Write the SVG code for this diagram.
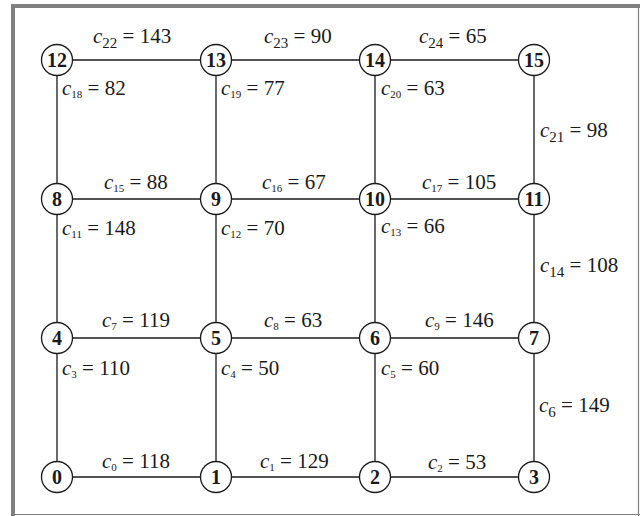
<svg xmlns="http://www.w3.org/2000/svg" width="642" height="516" viewBox="0 0 642 516">
<style>
text{font-family:'Liberation Serif',serif !important}
.frame{fill:none;stroke:#808080}
.edge{stroke:#1a1a1a;stroke-width:1.3;fill:none}
.node circle{fill:#fff;stroke:#1a1a1a;stroke-width:1.3}
.node text{font-weight:bold;font-size:20px;fill:#1a1a1a;text-anchor:middle}
.lbl{font-size:21px;fill:#1a1a1a}
.c{font-style:italic}
.s{font-size:11px}
.S{font-size:15px}
</style>
<rect x="0" y="0" width="642" height="516" fill="#fff"/>
<line class="frame" x1="11" y1="6" x2="640" y2="6" stroke-width="4"/>
<line class="frame" x1="13" y1="4" x2="13" y2="516" stroke-width="4"/>
<line class="frame" x1="638.5" y1="6" x2="638.5" y2="516" stroke-width="1.2"/>
<line class="frame" x1="11" y1="514.5" x2="640" y2="514.5" stroke-width="1.2"/>
<g id="connectors">
<line class="edge" x1="57" y1="60" x2="534" y2="60"/>
<line class="edge" x1="57" y1="199" x2="534" y2="199"/>
<line class="edge" x1="57" y1="338" x2="534" y2="338"/>
<line class="edge" x1="57" y1="477" x2="534" y2="477"/>
<line class="edge" x1="57" y1="60" x2="57" y2="477"/>
<line class="edge" x1="216" y1="60" x2="216" y2="477"/>
<line class="edge" x1="375" y1="60" x2="375" y2="477"/>
<line class="edge" x1="534" y1="60" x2="534" y2="477"/>
</g>
<g id="labels" class="lbl">
<text style="font-family:'Liberation Serif',serif" x="93" y="43"><tspan class="c">c</tspan><tspan class="S" dy="5">22</tspan><tspan dy="-5"> = 143</tspan></text>
<text style="font-family:'Liberation Serif',serif" x="264" y="43"><tspan class="c">c</tspan><tspan class="S" dy="5">23</tspan><tspan dy="-5"> = 90</tspan></text>
<text style="font-family:'Liberation Serif',serif" x="419" y="43"><tspan class="c">c</tspan><tspan class="S" dy="5">24</tspan><tspan dy="-5"> = 65</tspan></text>
<text style="font-family:'Liberation Serif',serif" x="62" y="95"><tspan class="c">c</tspan><tspan class="s" dy="3">18</tspan><tspan dy="-3"> = 82</tspan></text>
<text style="font-family:'Liberation Serif',serif" x="221" y="95"><tspan class="c">c</tspan><tspan class="s" dy="3">19</tspan><tspan dy="-3"> = 77</tspan></text>
<text style="font-family:'Liberation Serif',serif" x="381" y="95"><tspan class="c">c</tspan><tspan class="s" dy="3">20</tspan><tspan dy="-3"> = 63</tspan></text>
<text style="font-family:'Liberation Serif',serif" x="540" y="137"><tspan class="c">c</tspan><tspan class="S" dy="5">21</tspan><tspan dy="-5"> = 98</tspan></text>
<text style="font-family:'Liberation Serif',serif" x="104" y="189"><tspan class="c">c</tspan><tspan class="s" dy="3">15</tspan><tspan dy="-3"> = 88</tspan></text>
<text style="font-family:'Liberation Serif',serif" x="262" y="189"><tspan class="c">c</tspan><tspan class="s" dy="3">16</tspan><tspan dy="-3"> = 67</tspan></text>
<text style="font-family:'Liberation Serif',serif" x="422" y="189"><tspan class="c">c</tspan><tspan class="s" dy="3">17</tspan><tspan dy="-3"> = 105</tspan></text>
<text style="font-family:'Liberation Serif',serif" x="62" y="235"><tspan class="c">c</tspan><tspan class="s" dy="3">11</tspan><tspan dy="-3"> = 148</tspan></text>
<text style="font-family:'Liberation Serif',serif" x="221" y="235"><tspan class="c">c</tspan><tspan class="s" dy="3">12</tspan><tspan dy="-3"> = 70</tspan></text>
<text style="font-family:'Liberation Serif',serif" x="381" y="233"><tspan class="c">c</tspan><tspan class="s" dy="3">13</tspan><tspan dy="-3"> = 66</tspan></text>
<text style="font-family:'Liberation Serif',serif" x="540" y="272"><tspan class="c">c</tspan><tspan class="S" dy="5">14</tspan><tspan dy="-5"> = 108</tspan></text>
<text style="font-family:'Liberation Serif',serif" x="102" y="327"><tspan class="c">c</tspan><tspan class="s" dy="3">7</tspan><tspan dy="-3"> = 119</tspan></text>
<text style="font-family:'Liberation Serif',serif" x="264" y="327"><tspan class="c">c</tspan><tspan class="s" dy="3">8</tspan><tspan dy="-3"> = 63</tspan></text>
<text style="font-family:'Liberation Serif',serif" x="425" y="327"><tspan class="c">c</tspan><tspan class="s" dy="3">9</tspan><tspan dy="-3"> = 146</tspan></text>
<text style="font-family:'Liberation Serif',serif" x="62" y="375"><tspan class="c">c</tspan><tspan class="s" dy="3">3</tspan><tspan dy="-3"> = 110</tspan></text>
<text style="font-family:'Liberation Serif',serif" x="221" y="375"><tspan class="c">c</tspan><tspan class="s" dy="3">4</tspan><tspan dy="-3"> = 50</tspan></text>
<text style="font-family:'Liberation Serif',serif" x="381" y="375"><tspan class="c">c</tspan><tspan class="s" dy="3">5</tspan><tspan dy="-3"> = 60</tspan></text>
<text style="font-family:'Liberation Serif',serif" x="539" y="412"><tspan class="c">c</tspan><tspan class="S" dy="5">6</tspan><tspan dy="-5"> = 149</tspan></text>
<text style="font-family:'Liberation Serif',serif" x="102" y="468"><tspan class="c">c</tspan><tspan class="s" dy="3">0</tspan><tspan dy="-3"> = 118</tspan></text>
<text style="font-family:'Liberation Serif',serif" x="260" y="468"><tspan class="c">c</tspan><tspan class="s" dy="3">1</tspan><tspan dy="-3"> = 129</tspan></text>
<text style="font-family:'Liberation Serif',serif" x="428" y="469"><tspan class="c">c</tspan><tspan class="s" dy="3">2</tspan><tspan dy="-3"> = 53</tspan></text>
</g>
<g id="n12" class="node"><circle cx="57" cy="60" r="15.5"/><text style="font-family:'Liberation Serif',serif" x="57" y="67">12</text></g>
<g id="n13" class="node"><circle cx="216" cy="60" r="15.5"/><text style="font-family:'Liberation Serif',serif" x="216" y="67">13</text></g>
<g id="n14" class="node"><circle cx="375" cy="60" r="15.5"/><text style="font-family:'Liberation Serif',serif" x="375" y="67">14</text></g>
<g id="n15" class="node"><circle cx="534" cy="60" r="15.5"/><text style="font-family:'Liberation Serif',serif" x="534" y="67">15</text></g>
<g id="n8" class="node"><circle cx="57" cy="199" r="15.5"/><text style="font-family:'Liberation Serif',serif" x="57" y="206">8</text></g>
<g id="n9" class="node"><circle cx="216" cy="199" r="15.5"/><text style="font-family:'Liberation Serif',serif" x="216" y="206">9</text></g>
<g id="n10" class="node"><circle cx="375" cy="199" r="15.5"/><text style="font-family:'Liberation Serif',serif" x="375" y="206">10</text></g>
<g id="n11" class="node"><circle cx="534" cy="199" r="15.5"/><text style="font-family:'Liberation Serif',serif" x="534" y="206">11</text></g>
<g id="n4" class="node"><circle cx="57" cy="338" r="15.5"/><text style="font-family:'Liberation Serif',serif" x="57" y="345">4</text></g>
<g id="n5" class="node"><circle cx="216" cy="338" r="15.5"/><text style="font-family:'Liberation Serif',serif" x="216" y="345">5</text></g>
<g id="n6" class="node"><circle cx="375" cy="338" r="15.5"/><text style="font-family:'Liberation Serif',serif" x="375" y="345">6</text></g>
<g id="n7" class="node"><circle cx="534" cy="338" r="15.5"/><text style="font-family:'Liberation Serif',serif" x="534" y="345">7</text></g>
<g id="n0" class="node"><circle cx="57" cy="477" r="15.5"/><text style="font-family:'Liberation Serif',serif" x="57" y="484">0</text></g>
<g id="n1" class="node"><circle cx="216" cy="477" r="15.5"/><text style="font-family:'Liberation Serif',serif" x="216" y="484">1</text></g>
<g id="n2" class="node"><circle cx="375" cy="477" r="15.5"/><text style="font-family:'Liberation Serif',serif" x="375" y="484">2</text></g>
<g id="n3" class="node"><circle cx="534" cy="477" r="15.5"/><text style="font-family:'Liberation Serif',serif" x="534" y="484">3</text></g>
</svg>
